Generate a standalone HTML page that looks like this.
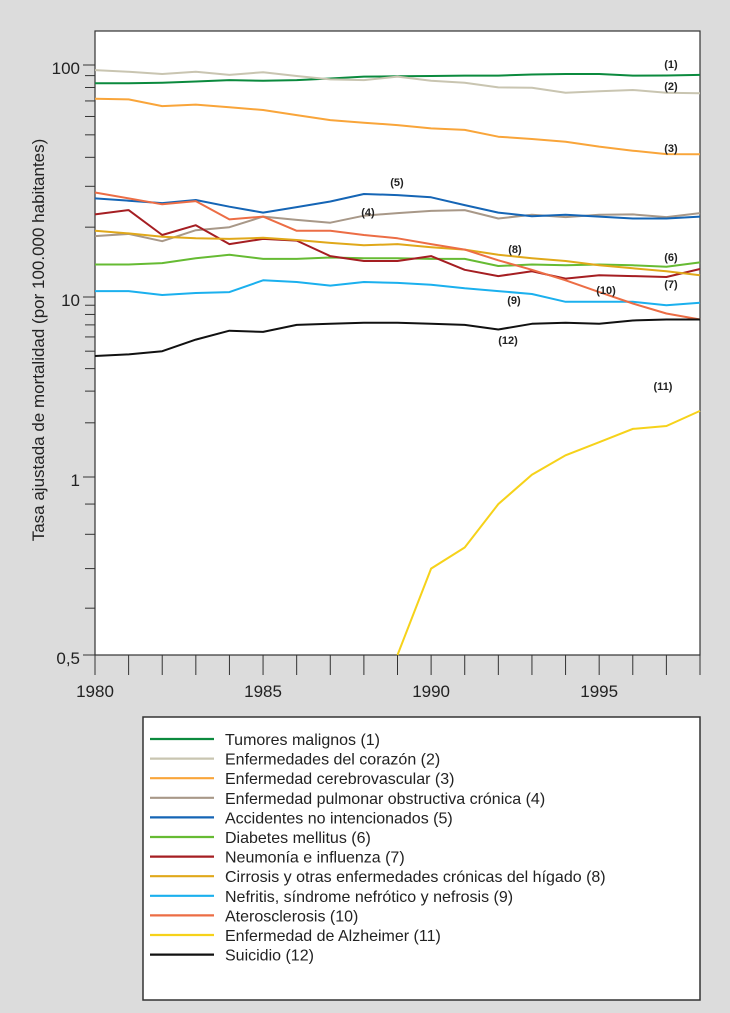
<!DOCTYPE html>
<html><head><meta charset="utf-8"><style>
html,body{margin:0;padding:0;background:#dcdcdc;}
body{width:730px;height:1013px;position:relative;overflow:hidden;font-family:"Liberation Sans",sans-serif;}
svg{position:absolute;left:0;top:0;}
</style></head><body>
<svg id="chart" width="730" height="1013" xmlns="http://www.w3.org/2000/svg"></svg>
<script>
const years=[1980,1981,1982,1983,1984,1985,1986,1987,1988,1989,1990,1991,1992,1993,1994,1995,1996,1997,1998];
const s1=[83.4,83.4,83.9,84.9,86.1,85.5,86.1,87.5,89.1,89.4,89.7,90.0,90.0,91.0,91.5,91.5,90.0,90.1,90.6];
const s2=[95.1,93.5,91.5,93.5,90.6,93.1,89.7,86.7,86.1,89.1,85.5,83.9,80.1,79.8,76.0,77.1,78.0,76.0,75.5];
const s3=[71.6,71.1,66.5,67.5,65.8,64.0,60.8,57.9,56.4,55.1,53.3,52.5,49.1,48.0,46.7,44.5,42.7,41.3,41.2];
const s4=[18.3,18.7,17.4,19.4,20.0,22.2,21.5,20.9,22.4,23.0,23.5,23.7,21.8,22.6,22.1,22.6,22.7,22.1,23.0];
const s5=[26.6,26.0,25.4,26.2,24.5,23.1,24.4,25.8,27.8,27.5,26.9,24.9,23.1,22.3,22.6,22.2,21.8,21.8,22.2];
const s6=[13.8,13.8,14.0,14.7,15.2,14.6,14.6,14.8,14.7,14.7,14.6,14.6,13.6,13.8,13.7,13.8,13.7,13.5,14.1];
const s7=[22.7,23.7,18.5,20.4,16.9,17.8,17.5,15.0,14.3,14.3,15.0,13.1,12.3,12.9,12.0,12.4,12.3,12.2,13.2];
const s8=[19.3,18.8,18.2,17.9,17.8,18.0,17.6,17.1,16.7,16.9,16.4,16.0,15.2,14.7,14.3,13.7,13.3,12.9,12.4];
const s9=[10.6,10.6,10.2,10.4,10.5,11.8,11.6,11.2,11.6,11.5,11.3,10.9,10.6,10.3,9.4,9.4,9.4,9.0,9.3];
const s10=[28.2,26.6,25.1,25.9,21.6,22.2,19.3,19.3,18.5,17.9,16.9,16.0,14.4,13.1,11.8,10.5,9.2,8.1,7.5];
const s11years=[1989,1990,1991,1992,1993,1994,1995,1996,1997,1998];
const s11=[0.5,0.70,0.76,0.90,1.03,1.32,1.56,1.85,1.92,2.33];
const s12=[4.7,4.8,5.0,5.8,6.5,6.4,7.0,7.1,7.2,7.2,7.1,7.0,6.6,7.1,7.2,7.1,7.4,7.5,7.5];
const yTickLabels=["100","10","1","0,5"];
const yTickValues=[100,10,1,0.5];
const yMinorValues=[20,30,40,50,60,70,80,90,2,3,4,5,6,7,8,9,0.6,0.7,0.8,0.9];
const xTickLabels=[1980,1985,1990,1995];
const legendNames=["Tumores malignos (1)","Enfermedades del corazón (2)","Enfermedad cerebrovascular (3)","Enfermedad pulmonar obstructiva crónica (4)","Accidentes no intencionados (5)","Diabetes mellitus (6)","Neumonía e influenza (7)","Cirrosis y otras enfermedades crónicas del hígado (8)","Nefritis, síndrome nefrótico y nefrosis (9)","Aterosclerosis (10)","Enfermedad de Alzheimer (11)","Suicidio (12)"];
const colors=["#0b8a3e","#c9c5b1","#f9a53a","#a89888","#1565b5","#66bb33","#a51e22","#e0a81a","#1bb0ee","#ec6d45","#f6d21a","#111111"];

const svg=document.getElementById('chart');
const NS='http://www.w3.org/2000/svg';
const L=95,R=700,T=31,B=655;
function x(yr){return L+(yr-1980)*(R-L)/18;}
function y(v){const l=Math.log10(v);
  if(v>=10) return 297-(l-1)*232;
  if(v>=1) return 477-l*180;
  return 477+(-l)/0.30103*178;}
function mk(tag,attrs,parent){const e=document.createElementNS(NS,tag);for(const k in attrs)e.setAttribute(k,attrs[k]);(parent||svg).appendChild(e);return e;}

let e=mk('rect',{x:L,y:T,width:R-L,height:B-T,fill:'#fff',stroke:'#333','stroke-width':1.2});



yTickValues.forEach((v,i)=>{
  let t=mk('line',{x1:L-12,x2:L,y1:y(v),y2:y(v),stroke:'#333','stroke-width':1});
  
  
  let tx=mk('text',{x:L-15,y:y(v)+9,'text-anchor':'end','font-size':17,fill:'#222'});
  tx.textContent=yTickLabels[i];
  
  
});
yMinorValues.forEach(v=>{
  let t=mk('line',{x1:L-10,x2:L,y1:y(v),y2:y(v),stroke:'#333','stroke-width':1});
  
  
});
years.forEach(yr=>{
  let t=mk('line',{x1:x(yr),x2:x(yr),y1:B,y2:B+20,stroke:'#333','stroke-width':1});
  
  
});
xTickLabels.forEach(yr=>{
  let tx=mk('text',{x:x(yr),y:B+42,'text-anchor':'middle','font-size':17,fill:'#222'});
  tx.textContent=yr;
  
  
});
let yt=mk('text',{x:0,y:0,'text-anchor':'middle','font-size':17,fill:'#222',transform:'translate(44,340) rotate(-90)'});
yt.textContent='Tasa ajustada de mortalidad  (por 100.000 habitantes)';



const series=[s1,s2,s3,s4,s5,s6,s7,s8,s9,s10,null,s12];
series.forEach((s,i)=>{
  if(!s) return;
  const d=s.map((v,j)=>(j?'L':'M')+x(years[j]).toFixed(1)+','+y(v).toFixed(1)).join(' ');
  let p=mk('path',{d:d,fill:'none',stroke:colors[i],'stroke-width':2,'stroke-linejoin':'round'});
  
  
});
(function(){
  const d=s11.map((v,j)=>(j?'L':'M')+x(s11years[j]).toFixed(1)+','+y(v).toFixed(1)).join(' ');
  let p=mk('path',{d:d,fill:'none',stroke:colors[10],'stroke-width':2});
  
  
})();

const ann=[["(1)",671,68],["(2)",671,90],["(3)",671,152],["(4)",368,216],["(5)",397,186],["(6)",671,261],["(7)",671,288],["(8)",515,253],["(9)",514,304],["(10)",606,294],["(11)",663,390],["(12)",508,344]];
ann.forEach(a=>{
  let tx=mk('text',{x:a[1],y:a[2],'text-anchor':'middle','font-size':11,'font-weight':'bold',fill:'#222'});
  tx.textContent=a[0];
  
  
});

let lb=mk('rect',{x:143,y:717,width:557,height:283,fill:'#fff',stroke:'#333','stroke-width':1.5});


legendNames.forEach((n,i)=>{
  const yy=739+i*19.6;
  let g=mk('g',{});
  
  
  mk('line',{x1:150,x2:214,y1:yy,y2:yy,stroke:colors[i],'stroke-width':2.2},g);
  let tx=mk('text',{x:225,y:yy+6,'font-size':16,fill:'#222'},g);
  tx.textContent=n;
});
</script>
</body></html>
